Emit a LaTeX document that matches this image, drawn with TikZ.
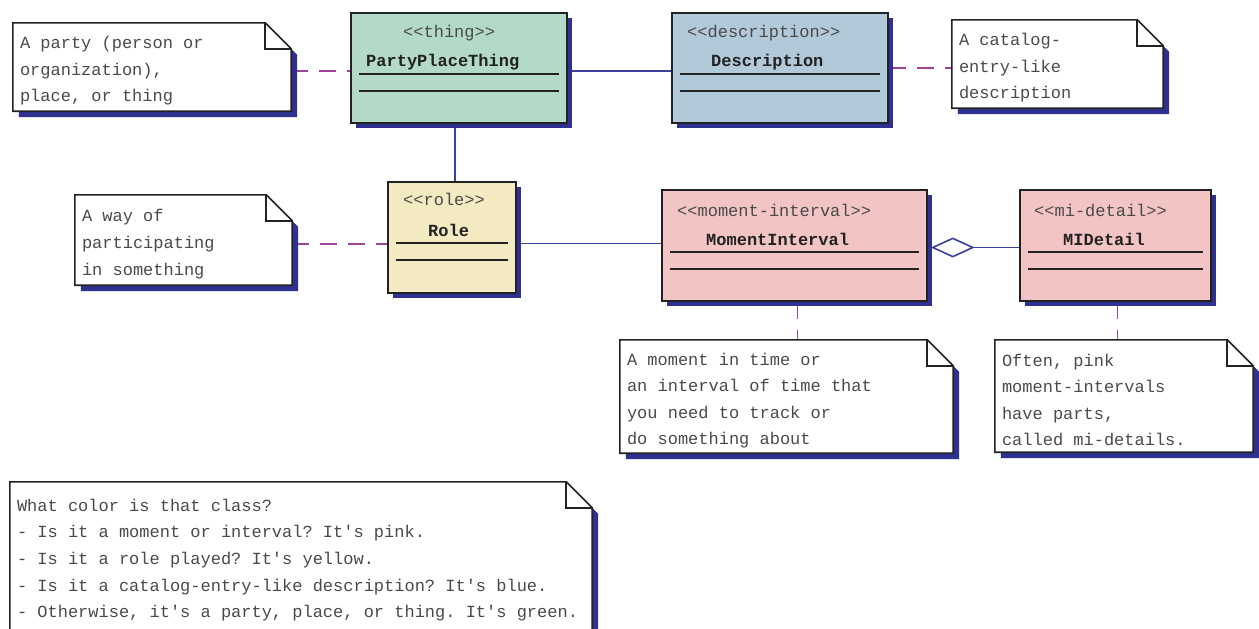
\documentclass[tikz,border=0pt]{standalone}
\usepackage{fontspec}
\setmonofont{Liberation Mono}
\usepackage{tikz}
\usetikzlibrary{arrows.meta,shadows,positioning}

\pgfdeclarelayer{lines}
\pgfdeclarelayer{paper}
\pgfsetlayers{lines,paper,main}

\definecolor{thinggreen}{HTML}{B3DAC6}
\definecolor{descblue}{HTML}{B1C9D9}
\definecolor{roleyellow}{HTML}{F4EAC1}
\definecolor{mipink}{HTML}{F2C4C4}
\definecolor{shadowblue}{HTML}{2E3192}
\definecolor{assocblue}{HTML}{3B3F9E}
\definecolor{notepurple}{HTML}{A0449B}
\definecolor{textgray}{HTML}{4A4A4A}
\definecolor{inkblack}{HTML}{222222}

\newcommand{\umlfont}{\ttfamily\fontsize{17}{26.6}\selectfont}

% white paper with a folded corner and a blue shadow, under a note node
% (drawn 4px higher than the node, so the text sits a little low)
\newcommand{\notepaper}[1]{%
  \begin{pgfonlayer}{paper}
    \fill[shadowblue] ([shift={(6,2)}]#1.south west) -- ([shift={(6,2)}]#1.south east)
      -- ([shift={(6,28)}]#1.north east) -- ([shift={(-20,2)}]#1.north east)
      -- ([shift={(6,2)}]#1.north west) -- cycle;
    \filldraw[fill=white, draw=inkblack, line width=1.6pt] ([shift={(0,-4)}]#1.south west)
      -- ([shift={(0,-4)}]#1.south east) -- ([shift={(0,22)}]#1.north east)
      -- ([shift={(-26,-4)}]#1.north east) -- ([shift={(0,-4)}]#1.north west) -- cycle;
    \draw[inkblack, line width=1.6pt] ([shift={(-26,-4)}]#1.north east) |- ([shift={(0,22)}]#1.north east);
  \end{pgfonlayer}}

\tikzset{
  classbox/.style={draw=inkblack, line width=1.6pt, inner sep=0pt,
    drop shadow={shadow xshift=5pt, shadow yshift=-5pt, fill=shadowblue, opacity=1}},
  stereo/.style={anchor=west, inner sep=0pt, font=\umlfont, text=textgray,
    text height=12pt, text depth=3pt},
  cname/.style={stereo, font=\umlfont\bfseries, text=inkblack},
  compline/.style={draw=inkblack, line width=1.8pt},
  assoc/.style={draw=assocblue, line width=1.6pt},
  notelink/.style={draw=notepurple, line width=1.5pt, dash pattern=on 17pt off 11pt},
  note/.style={inner xsep=7pt, inner ysep=0pt, align=flush left, font=\umlfont, text=textgray},
}

\begin{document}
\begin{tikzpicture}[x=1pt, y=-1pt]
    \clip (0,0) rectangle (1259,629);
    \begin{pgfonlayer}{lines}
        \fill[white] (0,0) rectangle (1259,629);
    \end{pgfonlayer}

    % classes
    \node[classbox, fill=thinggreen, minimum width=216pt, minimum height=110pt] (ppt) at (459,68) {};
    \node[classbox, fill=descblue, minimum width=216pt, minimum height=110pt] (desc) at (780,68) {};
    \node[classbox, fill=roleyellow, minimum width=128pt, minimum height=111pt] (role) at (452,237.5) {};
    \node[classbox, fill=mipink, minimum width=265pt, minimum height=111pt] (mi) at (794.5,245.5) {};
    \node[classbox, fill=mipink, minimum width=191pt, minimum height=111pt] (midetail) at (1115.5,245.5) {};

    \node[stereo] (pptstereo) at (403,33) {<<thing>>};
    \node[cname] (pptname) at (366,62) {PartyPlaceThing};
    \node[stereo] (descstereo) at (687,33) {<<description>>};
    \node[cname] (descname) at (711,62) {Description};
    \node[stereo] (rolestereo) at (403,201) {<<role>>};
    \node[cname] (rolename) at (428,232) {Role};
    \node[stereo] (mistereo) at (677,212) {<<moment-interval>>};
    \node[cname] (miname) at (706,241) {MomentInterval};
    \node[stereo] (midetailstereo) at (1034,212) {<<mi-detail>>};
    \node[cname] (midetailname) at (1063,241) {MIDetail};

    \draw[compline] ([shift={(9,62)}]ppt.north west) -- ([shift={(-9,62)}]ppt.north east);
    \draw[compline] ([shift={(9,79)}]ppt.north west) -- ([shift={(-9,79)}]ppt.north east);
    \draw[compline] ([shift={(9,62)}]desc.north west) -- ([shift={(-9,62)}]desc.north east);
    \draw[compline] ([shift={(9,79)}]desc.north west) -- ([shift={(-9,79)}]desc.north east);
    \draw[compline] ([shift={(9,62)}]role.north west) -- ([shift={(-9,62)}]role.north east);
    \draw[compline] ([shift={(9,79)}]role.north west) -- ([shift={(-9,79)}]role.north east);
    \draw[compline] ([shift={(9,63)}]mi.north west) -- ([shift={(-9,63)}]mi.north east);
    \draw[compline] ([shift={(9,80)}]mi.north west) -- ([shift={(-9,80)}]mi.north east);
    \draw[compline] ([shift={(9,63)}]midetail.north west) -- ([shift={(-9,63)}]midetail.north east);
    \draw[compline] ([shift={(9,80)}]midetail.north west) -- ([shift={(-9,80)}]midetail.north east);

    % notes
    \node[note, text width=264pt, minimum height=88pt] (partynote) at (152,71)
        {A party (person or\\organization),\\place, or thing};
    \node[note, text width=197pt, minimum height=88pt] (descnote) at (1057.5,68)
        {A catalog-\\entry-like\\description};
    \node[note, text width=203pt, minimum height=90pt] (rolenote) at (183.5,244)
        {A way of\\participating\\in something};
    \node[note, text width=319pt, minimum height=113pt] (minote) at (786.5,400.5)
        {A moment in time or\\an interval of time that\\you need to track or\\do something about};
    \node[note, text width=244pt, minimum height=112pt] (midetailnote) at (1124,400)
        {Often, pink\\moment-intervals\\have parts,\\called mi-details.};
    \node[note, text width=568pt, minimum height=148pt] (colornote) at (301,560)
        {What color is that class?\\
         - Is it a moment or interval? It's pink.\\
         - Is it a role played? It's yellow.\\
         - Is it a catalog-entry-like description? It's blue.\\
         - Otherwise, it's a party, place, or thing. It's green.};

    \notepaper{partynote}
    \notepaper{descnote}
    \notepaper{rolenote}
    \notepaper{minote}
    \notepaper{midetailnote}
    \notepaper{colornote}

    % connectors
    \begin{pgfonlayer}{lines}
        \draw[assoc] ([yshift=-3pt]ppt.east) -- ([yshift=-3pt]desc.west);
        \draw[assoc] ([xshift=3pt]role.north |- ppt.south) -- ([xshift=3pt]role.north);
        \draw[assoc] ([yshift=2pt]mi.west -| role.east) -- ([yshift=2pt]mi.west);
        \draw[assoc, -{Diamond[open, length=44pt, width=20pt]}, shorten >=3pt] ([yshift=-2pt]midetail.west) -- ([yshift=-2pt]mi.east);

        \draw[notelink] (partynote.east) -- (partynote.east -| ppt.west);
        \draw[notelink] (descnote.west -| desc.east) -- (descnote.west);
        \draw[notelink] (rolenote.east) -- (rolenote.east -| role.west);
        \draw[notelink] ([xshift=3pt]mi.south) -- ([xshift=3pt]mi.south |- minote.north);
        \draw[notelink] ([xshift=2pt]midetail.south) -- ([xshift=2pt]midetail.south |- midetailnote.north);
    \end{pgfonlayer}
\end{tikzpicture}
\end{document}
